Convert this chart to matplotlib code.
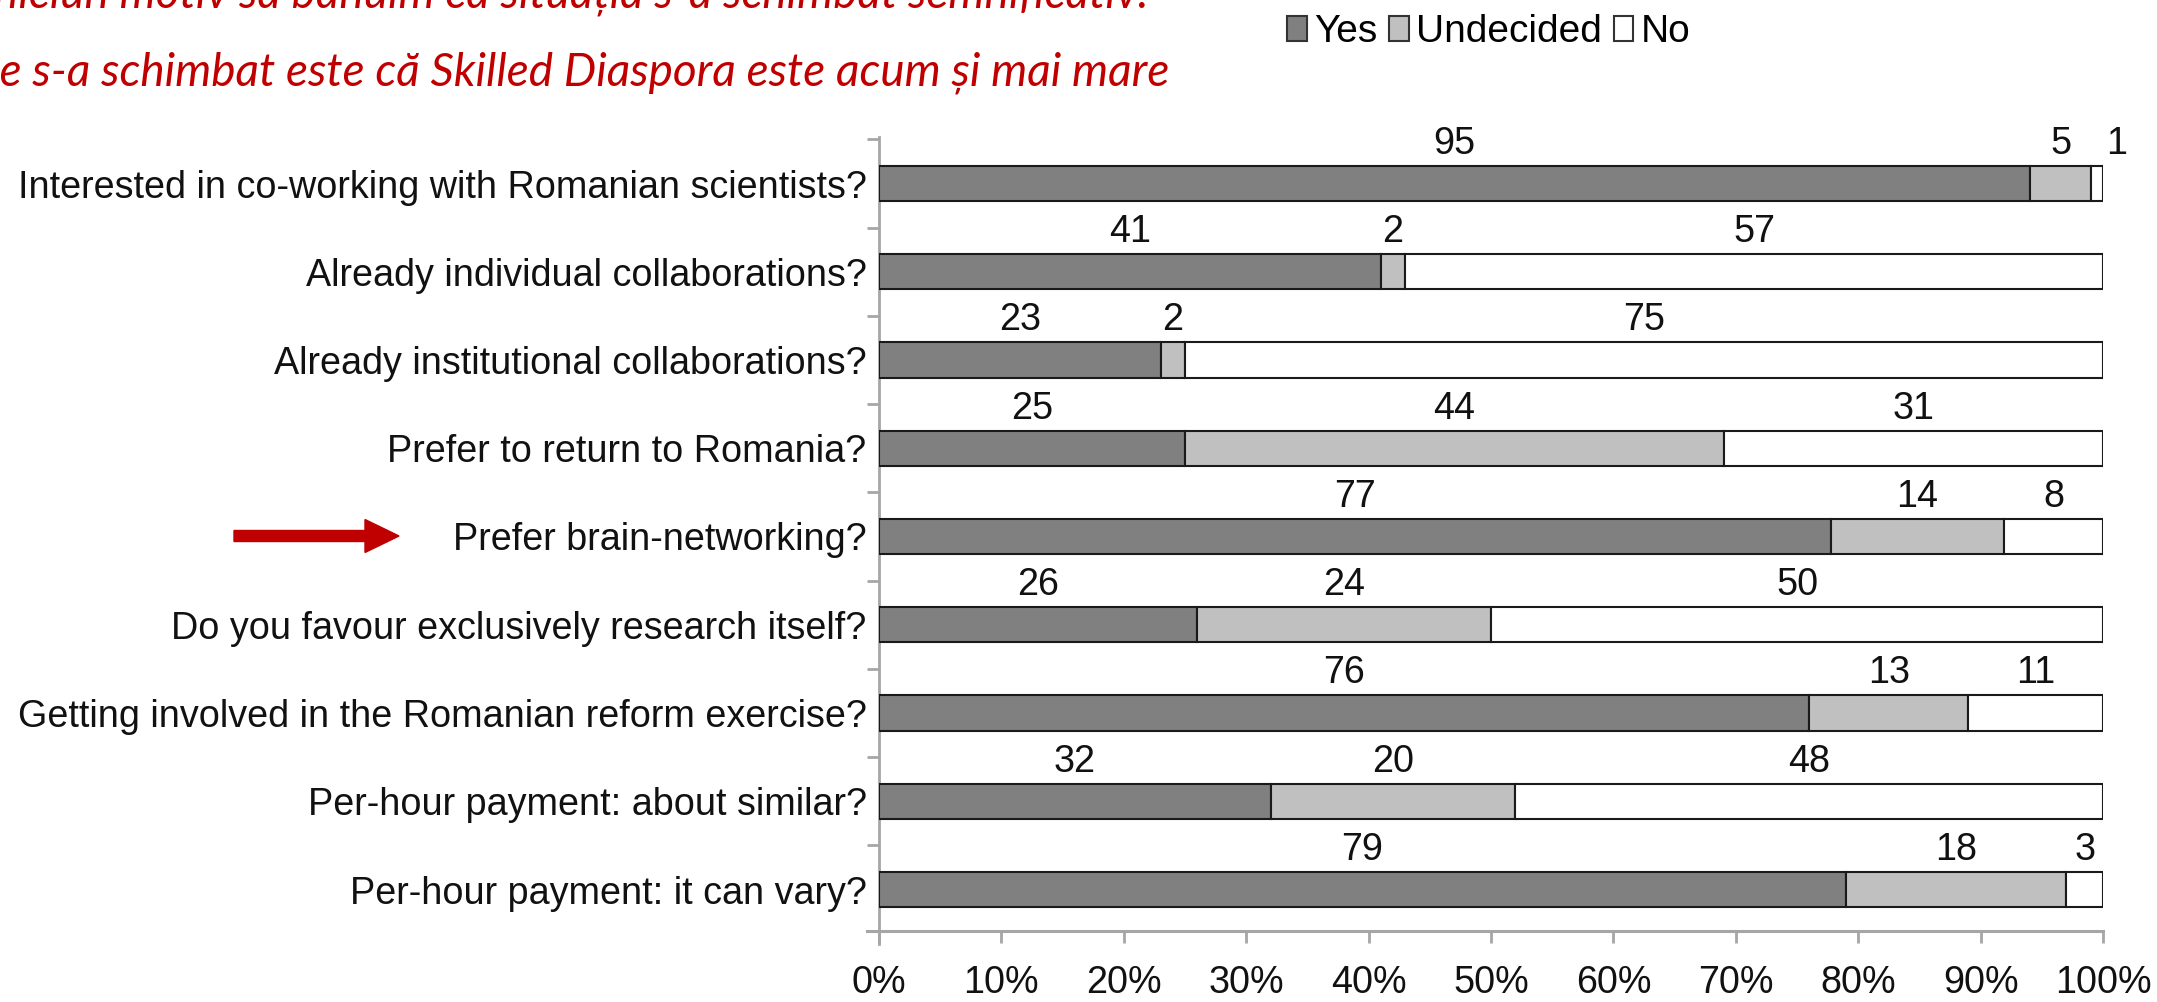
import matplotlib
matplotlib.use("Agg")
import matplotlib.pyplot as plt
from matplotlib.patches import FancyArrow, Patch
import numpy as np

categories = [
    "Interested in co-working with Romanian scientists?",
    "Already individual collaborations?",
    "Already institutional collaborations?",
    "Prefer to return to Romania?",
    "Prefer brain-networking?",
    "Do you favour exclusively research itself?",
    "Getting involved in the Romanian reform exercise?",
    "Per-hour payment: about similar?",
    "Per-hour payment: it can vary?",
]
yes = [95, 41, 23, 25, 77, 26, 76, 32, 79]
undecided = [5, 2, 2, 44, 14, 24, 13, 20, 18]
no = [1, 57, 75, 31, 8, 50, 11, 48, 3]
series_names = ["Yes", "Undecided", "No"]
xtick_values = [0, 10, 20, 30, 40, 50, 60, 70, 80, 90, 100]
xtick_labels = [f"{v}%" for v in xtick_values]

line1 = "Nu avem niciun motiv să bănuim că situația s-a schimbat semnificativ."
line2 = "Ce s-a schimbat este că Skilled Diaspora este acum și mai mare"

FONT = ["Liberation Sans", "DejaVu Sans"]
plt.rcParams["font.family"] = FONT
FS = 27.2

W, H = 2157, 1002
fig = plt.figure(figsize=(W / 100, H / 100), dpi=100)

# axes placement (pixels)
x0, x1 = 879, 2103
ylim_top, ylim_bot = -0.53, 8.62
c0, step = 183.5, 88.25
top_px = c0 + ylim_top * step
bot_px = c0 + ylim_bot * step
ax = fig.add_axes([x0 / W, 1 - bot_px / H, (x1 - x0) / W, (bot_px - top_px) / H])

colors = ["#808080", "#c0c0c0", "#ffffff"]
data = np.array([yes, undecided, no], dtype=float)
totals = data.sum(axis=0)
pct = data / totals * 100
ypos = np.arange(len(categories))

left = np.zeros(len(categories))
for k in range(3):
    ax.barh(ypos, pct[k], left=left, height=0.40, color=colors[k],
            edgecolor="#1a1a1a", linewidth=1.5, zorder=3)
    for i in range(len(categories)):
        cx = left[i] + pct[k][i] / 2
        if pct[k][i] < 2:
            cx += 1.6
        ax.text(cx, ypos[i] - 0.45, f"{int(data[k][i])}", ha="center", va="center",
                fontsize=FS, color="#111111")
    left = left + pct[k]

ax.set_xlim(0, 100)
ax.set_ylim(ylim_bot, ylim_top)

for s in ["top", "right"]:
    ax.spines[s].set_visible(False)
gray = "#a6a6a6"
ax.spines["left"].set_color(gray)
ax.spines["left"].set_linewidth(2)
ax.spines["bottom"].set_color(gray)
ax.spines["bottom"].set_linewidth(2.2)
ax.spines["bottom"].set_position(("data", 8.47))
ax.spines["bottom"].set_bounds(-1.0, 100)

ax.set_yticks(ypos)
ax.set_yticklabels(categories, fontsize=FS, color="#111111")
ax.tick_params(axis="y", which="major", length=0, pad=9)
ax.set_yticks(np.arange(-0.5, len(categories) - 0.5, 1.0), minor=True)
ax.tick_params(axis="y", which="minor", length=8.5, width=2, color=gray, direction="out")

ax.set_xticks(xtick_values)
ax.set_xticklabels(xtick_labels, fontsize=FS, color="#111111")
ax.tick_params(axis="x", length=8.5, width=2, color=gray, direction="out", pad=16)

# legend
handles = [Patch(facecolor=colors[k], edgecolor="#333333", linewidth=1.5) for k in range(3)]
fig.legend(handles, series_names, loc="center", bbox_to_anchor=(1489 / W, 1 - 32 / H),
           ncol=3, frameon=False, fontsize=28, handlelength=0.5, handleheight=0.6,
           handletextpad=0.2, columnspacing=0.3, borderaxespad=0)

# red annotation text
red = "#c00000"
fig.text(1149 / 100, (H - 8) / 100, line1, transform=fig.dpi_scale_trans,
         ha="right", va="baseline", color=red, fontsize=33, style="italic", family=["Lato", "DejaVu Sans"])
fig.text(1169 / 100, (H - 85) / 100, line2, transform=fig.dpi_scale_trans,
         ha="right", va="baseline", color=red, fontsize=33, style="italic", family=["Lato", "DejaVu Sans"])

# red arrow
arrow = FancyArrow(234 / 100, (H - 536) / 100, (399 - 234) / 100, 0,
                   width=0.11, head_width=0.33, head_length=0.34,
                   length_includes_head=True, color=red, transform=fig.dpi_scale_trans)
fig.patches.append(arrow)

fig.savefig("out.png", dpi=100)
